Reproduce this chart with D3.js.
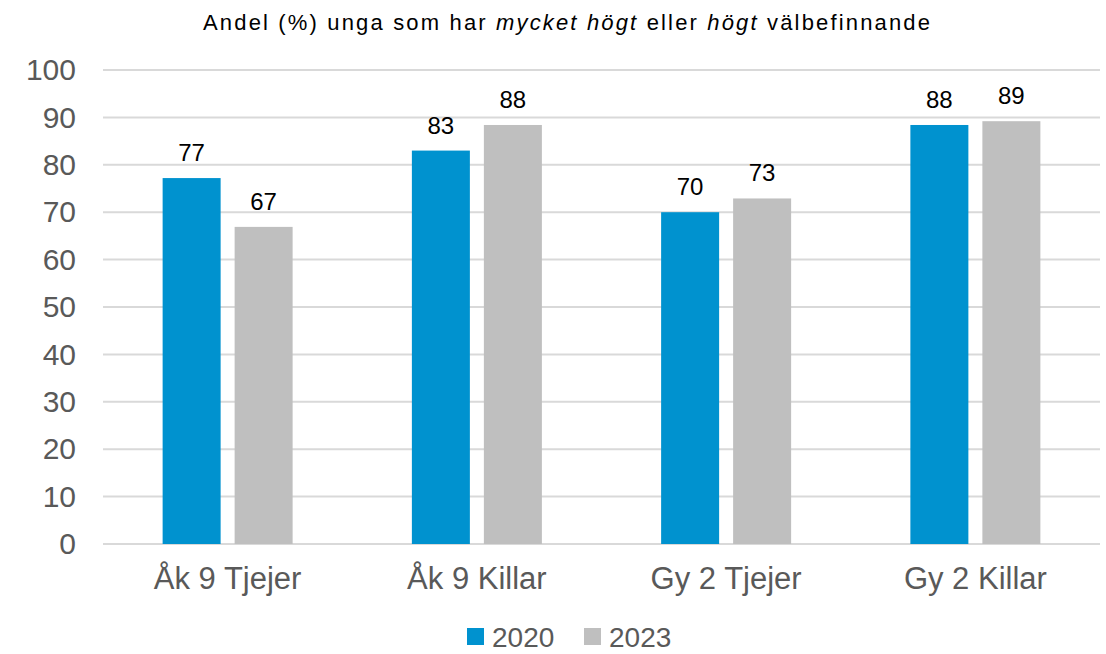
<!DOCTYPE html>
<html>
<head>
<meta charset="utf-8">
<script src="https://cdn.jsdelivr.net/npm/d3@7"></script>
<style>
  body { margin: 0; background: #fff; }
  text { font-family: "Liberation Sans", Arial, sans-serif; }
</style>
</head>
<body>
<svg id="chart"></svg>
<script>
const categories = ["Åk 9 Tjejer", "Åk 9 Killar", "Gy 2 Tjejer", "Gy 2 Killar"];
const series = ["2020", "2023"];
const values2020 = [77.2, 83.0, 70.0, 88.4];
const values2023 = [66.9, 88.4, 72.9, 89.2];
const yTicks = [0, 10, 20, 30, 40, 50, 60, 70, 80, 90, 100];
const colors = ["#0092cf", "#bfbfbf"];

const width = 1106, height = 654;
const margin = { top: 70, right: 6, bottom: 110, left: 103 };

const svg = d3.select("#chart")
    .attr("width", width)
    .attr("height", height);

const y = d3.scaleLinear()
    .domain([0, 100])
    .range([height - margin.bottom, margin.top]);

const x0 = d3.scaleBand()
    .domain(categories)
    .range([margin.left, width - margin.right]);

const groupWidth = 130;
const x1 = d3.scaleBand()
    .domain(series)
    .range([0, groupWidth])
    .paddingInner(14 / 72);

// gridlines
svg.append("g")
    .selectAll("line")
    .data(yTicks)
    .join("line")
    .attr("x1", margin.left)
    .attr("x2", width - margin.right)
    .attr("y1", d => y(d))
    .attr("y2", d => y(d))
    .attr("stroke", "#d9d9d9")
    .attr("stroke-width", 2);

// y axis labels
svg.append("g")
    .attr("transform", "translate(76,0)")
    .call(d3.axisLeft(y).tickValues(yTicks).tickSize(0).tickPadding(0))
    .call(g => g.select(".domain").remove())
    .call(g => g.selectAll("text")
        .attr("font-size", 30)
        .attr("fill", "#595959")
        .attr("font-family", "Liberation Sans, Arial, sans-serif"));

const data = categories.map((c, i) => ({ cat: c, vals: [values2020[i], values2023[i]] }));

const groups = svg.append("g")
    .selectAll("g")
    .data(data)
    .join("g")
    .attr("transform", d => "translate(" + (x0(d.cat) + (x0.bandwidth() - groupWidth) / 2) + ",0)");

groups.selectAll("rect")
    .data(d => d.vals.map((v, j) => ({ s: series[j], v: v, j: j })))
    .join("rect")
    .attr("x", d => x1(d.s))
    .attr("y", d => y(d.v))
    .attr("width", x1.bandwidth())
    .attr("height", d => y(0) - y(d.v))
    .attr("fill", d => colors[d.j]);

groups.selectAll("text")
    .data(d => d.vals.map((v, j) => ({ s: series[j], v: v })))
    .join("text")
    .attr("x", d => x1(d.s) + x1.bandwidth() / 2)
    .attr("y", d => y(d.v) - 17)
    .attr("text-anchor", "middle")
    .attr("font-size", 24)
    .attr("fill", "#000")
    .text(d => Math.round(d.v));

// category labels
svg.append("g")
    .attr("transform", "translate(0," + (y(0) + 23) + ")")
    .call(d3.axisBottom(x0).tickSize(0).tickPadding(0))
    .call(g => g.select(".domain").remove())
    .call(g => g.selectAll("text")
        .attr("font-size", 31)
        .attr("fill", "#595959")
        .attr("font-family", "Liberation Sans, Arial, sans-serif"));

// title
const title = svg.append("text")
    .attr("x", 203)
    .attr("y", 30)
    .attr("font-size", 22)
    .attr("textLength", 727)
    .attr("lengthAdjust", "spacing")
    .attr("fill", "#000");
title.append("tspan").text("Andel (%) unga som har ");
title.append("tspan").attr("font-style", "italic").text("mycket högt");
title.append("tspan").text(" eller ");
title.append("tspan").attr("font-style", "italic").text("högt");
title.append("tspan").text(" välbefinnande");

// legend
const legendX = [467, 584];
const legend = svg.append("g")
    .selectAll("g")
    .data(series)
    .join("g")
    .attr("transform", (d, i) => "translate(" + legendX[i] + ",628)");
legend.append("rect")
    .attr("width", 17)
    .attr("height", 17)
    .attr("fill", (d, i) => colors[i]);
legend.append("text")
    .attr("x", 25)
    .attr("y", 19)
    .attr("font-size", 28)
    .attr("fill", "#595959")
    .text(d => d);
</script>
</body>
</html>
